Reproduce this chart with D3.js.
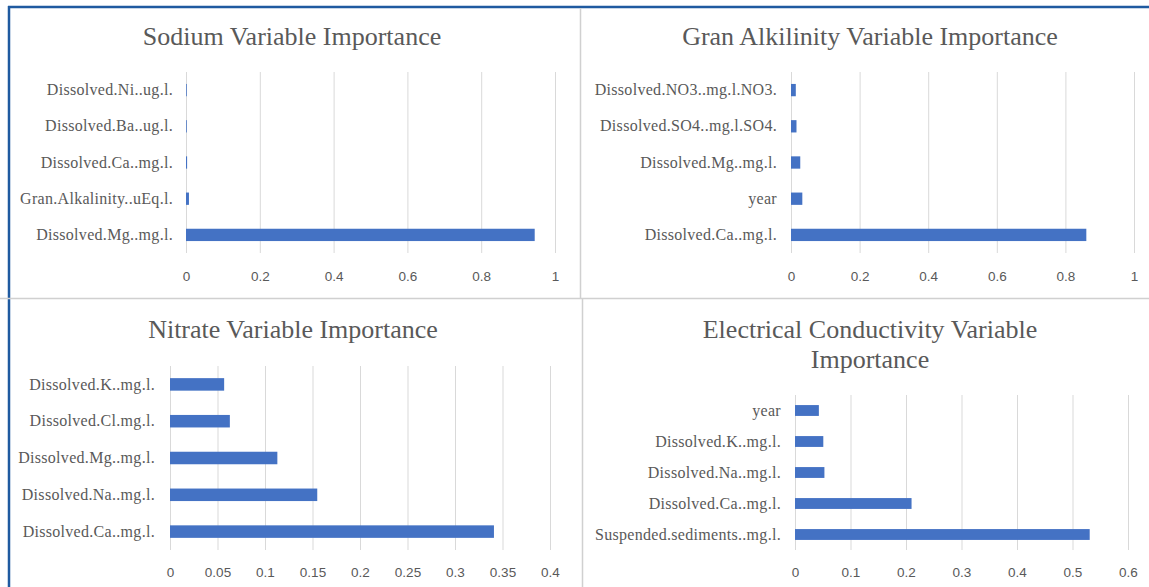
<!DOCTYPE html>
<html><head><meta charset="utf-8">
<script src="https://cdn.jsdelivr.net/npm/d3@7"></script>
<style>
html,body{margin:0;padding:0;background:#fff;}
svg{display:block;}
</style></head>
<body>
<svg id="c" width="1149" height="587"></svg>
<script>
// ---- data ----
const sodiumTitle = ["Sodium Variable Importance"];
const sodiumCats = ["Dissolved.Ni..ug.l.", "Dissolved.Ba..ug.l.", "Dissolved.Ca..mg.l.", "Gran.Alkalinity..uEq.l.", "Dissolved.Mg..mg.l."];
const sodiumVals = [0.002, 0.002, 0.003, 0.008, 0.945];
const sodiumTicks = [0, 0.2, 0.4, 0.6, 0.8, 1];

const alkTitle = ["Gran Alkilinity Variable Importance"];
const alkCats = ["Dissolved.NO3..mg.l.NO3.", "Dissolved.SO4..mg.l.SO4.", "Dissolved.Mg..mg.l.", "year", "Dissolved.Ca..mg.l."];
const alkVals = [0.014, 0.016, 0.027, 0.033, 0.861];
const alkTicks = [0, 0.2, 0.4, 0.6, 0.8, 1];

const nitrateTitle = ["Nitrate Variable Importance"];
const nitrateCats = ["Dissolved.K..mg.l.", "Dissolved.Cl.mg.l.", "Dissolved.Mg..mg.l.", "Dissolved.Na..mg.l.", "Dissolved.Ca..mg.l."];
const nitrateVals = [0.057, 0.063, 0.113, 0.155, 0.341];
const nitrateTicks = [0, 0.05, 0.1, 0.15, 0.2, 0.25, 0.3, 0.35, 0.4];

const ecTitle = ["Electrical Conductivity Variable", "Importance"];
const ecCats = ["year", "Dissolved.K..mg.l.", "Dissolved.Na..mg.l.", "Dissolved.Ca..mg.l.", "Suspended.sediments..mg.l."];
const ecVals = [0.043, 0.051, 0.053, 0.210, 0.531];
const ecTicks = [0, 0.1, 0.2, 0.3, 0.4, 0.5, 0.6];

// ---- drawing ----
const svg = d3.select("#c");
const TXT = "#595959", GRID = "#d9d9d9", BAR = "#4472c4";

// frame & dividers
svg.append("line").attr("x1",8).attr("x2",1149).attr("y1",7).attr("y2",7).attr("stroke","#1f5aa0").attr("stroke-width",2.5);
svg.append("line").attr("x1",9).attr("x2",9).attr("y1",6).attr("y2",587).attr("stroke","#1f5aa0").attr("stroke-width",2.5);
svg.append("line").attr("x1",580.5).attr("x2",580.5).attr("y1",8).attr("y2",298).attr("stroke","#d0d0d0").attr("stroke-width",1.5);
svg.append("line").attr("x1",0).attr("x2",1149).attr("y1",298.5).attr("y2",298.5).attr("stroke","#d0d0d0").attr("stroke-width",1.5);
svg.append("line").attr("x1",582.5).attr("x2",582.5).attr("y1",299).attr("y2",587).attr("stroke","#d0d0d0").attr("stroke-width",1.5);

function panel(o){
  const g = svg.append("g");
  const x = d3.scaleLinear().domain([0, o.ticks[o.ticks.length-1]]).range([o.x0, o.x1]);
  const y = d3.scaleBand().domain(o.cats).range([o.y0, o.y1]).paddingInner(o.pad).paddingOuter(o.pad/2);
  // title
  const t = g.append("text").attr("x", o.tx).attr("y", o.ty)
    .attr("text-anchor","middle").attr("font-family","'Liberation Serif', 'Times New Roman', serif")
    .attr("font-size", 26).attr("fill", TXT);
  o.title.forEach((s,i)=> t.append("tspan").attr("x", o.tx).attr("dy", i===0?0:30).text(s));
  // grid
  const xa = d3.axisBottom(x).tickValues(o.ticks).tickSize(-(o.y1-o.y0)).tickFormat(d=>d3.format("")(+d.toFixed(2)));
  const ag = g.append("g").attr("transform",`translate(0,${o.y1})`).call(xa);
  ag.select(".domain").remove();
  ag.selectAll(".tick line").attr("stroke", GRID).attr("stroke-width",1);
  ag.selectAll(".tick text").attr("fill", TXT).attr("font-family","'Liberation Sans', Arial, sans-serif")
    .attr("font-size", 13.5).attr("dy", 0).attr("y", o.tickY - o.y1 + 5);
  // bars
  g.selectAll("rect.b").data(o.vals).enter().append("rect")
    .attr("x", x(0)).attr("y", (d,i)=>y(o.cats[i]))
    .attr("width", d=>x(d)-x(0)).attr("height", y.bandwidth()).attr("fill", BAR);
  // category labels
  const ya = d3.axisLeft(y).tickSize(0).tickPadding(o.x0 - o.lx);
  const yg = g.append("g").attr("transform",`translate(${o.x0},0)`).call(ya);
  yg.select(".domain").remove();
  yg.selectAll(".tick text").attr("fill", TXT).attr("font-family","'Liberation Serif', 'Times New Roman', serif")
    .attr("font-size", 16).attr("letter-spacing", 0.3);
}

panel({title: sodiumTitle, cats: sodiumCats, vals: sodiumVals, ticks: sodiumTicks,
  x0:186, x1:555, y0:72, y1:253, pad:0.66, tx:292, ty:45, tickY:276, lx:173});
panel({title: alkTitle, cats: alkCats, vals: alkVals, ticks: alkTicks,
  x0:791, x1:1134, y0:72, y1:253, pad:0.66, tx:870, ty:45, tickY:276, lx:777});
panel({title: nitrateTitle, cats: nitrateCats, vals: nitrateVals, ticks: nitrateTicks,
  x0:170, x1:550, y0:366, y1:550, pad:0.66, tx:293, ty:338, tickY:572, lx:155});
panel({title: ecTitle, cats: ecCats, vals: ecVals, ticks: ecTicks,
  x0:795, x1:1128, y0:395, y1:550, pad:0.65, tx:870, ty:338, tickY:572, lx:781});
</script>
</body></html>
